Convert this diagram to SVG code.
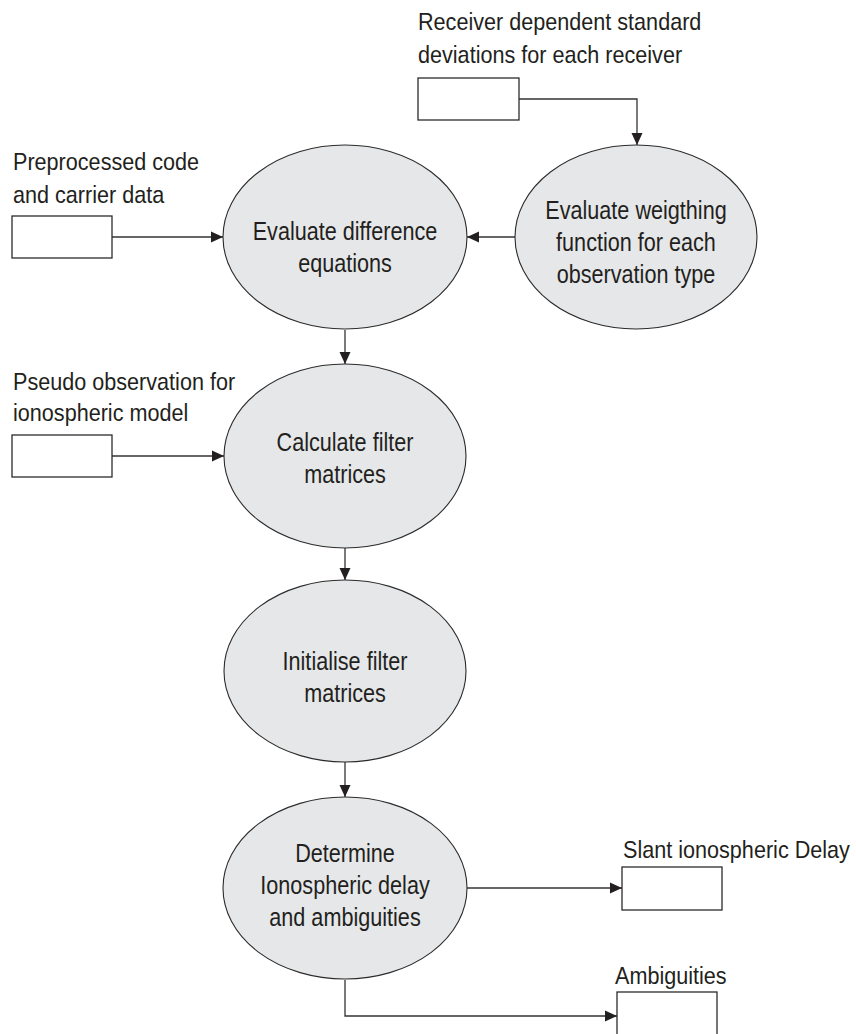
<svg xmlns="http://www.w3.org/2000/svg" width="856" height="1034" viewBox="0 0 856 1034">
  <style>
    .bg { fill: #ffffff; }
    .proc { fill: #e6e7e8; stroke: #2b2b2b; stroke-width: 1.1; }
    .store { fill: #ffffff; stroke: #2b2b2b; stroke-width: 1.3; }
    .flow { fill: none; stroke: #333333; stroke-width: 1.3; }
    text { font-family: "Liberation Sans", Arial, Helvetica, sans-serif; font-size: 24px; fill: #231f20; }
    .mid { text-anchor: middle; font-size: 25px; }
  </style>
  <defs>
    <marker id="arrow" viewBox="0 0 12 12" refX="12" refY="6" markerWidth="12" markerHeight="12" markerUnits="userSpaceOnUse" orient="auto">
      <path d="M0,0.5 L12,6 L0,11.5 Z" fill="#231f20"/>
    </marker>
  </defs>
  <rect class="bg" x="0" y="0" width="856" height="1034"/>

  <!-- data flows -->
  <g id="connectors">
    <polyline class="flow" points="519,99 637,99 637,145" marker-end="url(#arrow)"/>
    <line class="flow" x1="112" y1="237" x2="223" y2="237" marker-end="url(#arrow)"/>
    <line class="flow" x1="515" y1="237" x2="467" y2="237" marker-end="url(#arrow)"/>
    <line class="flow" x1="345" y1="330" x2="345" y2="364" marker-end="url(#arrow)"/>
    <line class="flow" x1="112" y1="456" x2="224" y2="456" marker-end="url(#arrow)"/>
    <line class="flow" x1="345" y1="548" x2="345" y2="580" marker-end="url(#arrow)"/>
    <line class="flow" x1="345" y1="762" x2="345" y2="797" marker-end="url(#arrow)"/>
    <line class="flow" x1="467" y1="888" x2="622" y2="888" marker-end="url(#arrow)"/>
    <polyline class="flow" points="345,980 345,1016 617,1016" marker-end="url(#arrow)"/>
  </g>

  <!-- input: receiver standard deviations -->
  <g id="in-receiver-std">
    <rect class="store" x="418" y="78" width="101" height="42"/>
    <text transform="translate(418 30) scale(0.9 1)">Receiver dependent standard</text>
    <text transform="translate(418 63) scale(0.9 1)">deviations for each receiver</text>
  </g>

  <!-- input: preprocessed observations -->
  <g id="in-preprocessed">
    <rect class="store" x="12" y="216" width="100" height="42"/>
    <text transform="translate(13 170) scale(0.9 1)">Preprocessed code</text>
    <text transform="translate(13 203) scale(0.9 1)">and carrier data</text>
  </g>

  <!-- input: ionospheric pseudo observations -->
  <g id="in-pseudo-obs">
    <rect class="store" x="12" y="435" width="100" height="42"/>
    <text transform="translate(13 390) scale(0.9 1)">Pseudo observation for</text>
    <text transform="translate(13 421) scale(0.9 1)">ionospheric model</text>
  </g>

  <g id="p-weighting">
    <ellipse class="proc" cx="636" cy="237" rx="121" ry="92"/>
    <text class="mid" transform="translate(636 219) scale(0.865 1)">Evaluate weigthing</text>
    <text class="mid" transform="translate(636 251) scale(0.865 1)">function for each</text>
    <text class="mid" transform="translate(636 283) scale(0.865 1)">observation type</text>
  </g>

  <g id="p-difference">
    <ellipse class="proc" cx="345" cy="237" rx="122" ry="92"/>
    <text class="mid" transform="translate(345 240) scale(0.865 1)">Evaluate difference</text>
    <text class="mid" transform="translate(345 272) scale(0.865 1)">equations</text>
  </g>

  <g id="p-calc-matrices">
    <ellipse class="proc" cx="345" cy="456" rx="121" ry="92"/>
    <text class="mid" transform="translate(345 451) scale(0.865 1)">Calculate filter</text>
    <text class="mid" transform="translate(345 483) scale(0.865 1)">matrices</text>
  </g>

  <g id="p-init-matrices">
    <ellipse class="proc" cx="345" cy="671" rx="121" ry="91"/>
    <text class="mid" transform="translate(345 670) scale(0.865 1)">Initialise filter</text>
    <text class="mid" transform="translate(345 702) scale(0.865 1)">matrices</text>
  </g>

  <g id="p-determine">
    <ellipse class="proc" cx="345" cy="888" rx="122" ry="91"/>
    <text class="mid" transform="translate(345 862) scale(0.865 1)">Determine</text>
    <text class="mid" transform="translate(345 894) scale(0.865 1)">Ionospheric delay</text>
    <text class="mid" transform="translate(345 926) scale(0.865 1)">and ambiguities</text>
  </g>

  <!-- outputs -->
  <g id="out-slant-delay">
    <rect class="store" x="622" y="867" width="100" height="43"/>
    <text transform="translate(623 858) scale(0.9 1)">Slant ionospheric Delay</text>
  </g>

  <g id="out-ambiguities">
    <rect class="store" x="617" y="992" width="100" height="50"/>
    <text transform="translate(615 984) scale(0.9 1)">Ambiguities</text>
  </g>
</svg>
